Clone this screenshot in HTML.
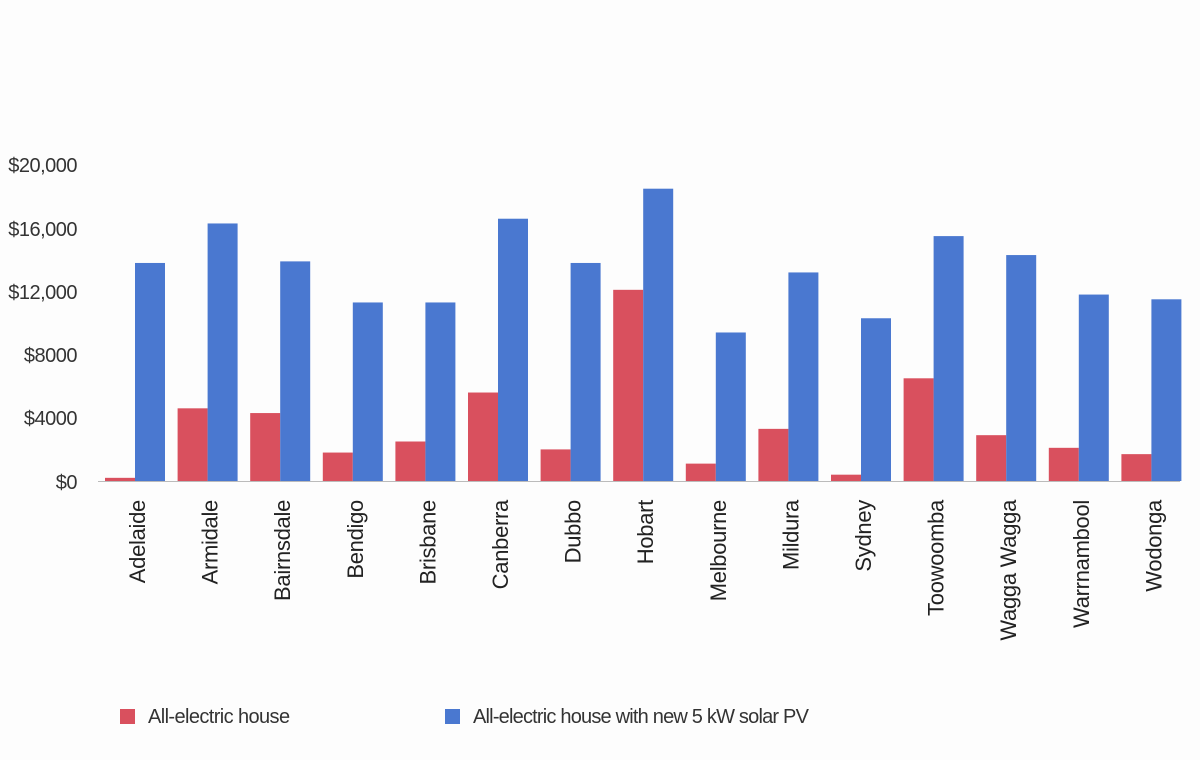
<!DOCTYPE html>
<html><head><meta charset="utf-8"><style>
html,body{margin:0;padding:0;background:#fdfdfd;}
svg{display:block;font-family:"Liberation Sans",sans-serif;}
</style></head><body>
<svg width="1200" height="760" viewBox="0 0 1200 760" xmlns="http://www.w3.org/2000/svg">
<rect width="1200" height="760" fill="#fdfdfd"/>
<g font-size="20" fill="#333" text-anchor="end" letter-spacing="-0.5">
<text x="77" y="172">$20,000</text>
<text x="77" y="236">$16,000</text>
<text x="77" y="299">$12,000</text>
<text x="77" y="362">$8000</text>
<text x="77" y="425">$4000</text>
<text x="77" y="489">$0</text>
</g>
<line x1="98" y1="481.5" x2="1180" y2="481.5" stroke="#bbb" stroke-width="1"/>
<g id="bars"></g>
<g id="labels" font-size="22" fill="#222" letter-spacing="-0.3"></g>
<rect x="120" y="709" width="15" height="15" fill="#d9505e"/>
<text x="148" y="723" font-size="20" fill="#333" letter-spacing="-0.6">All-electric house</text>
<rect x="445" y="709" width="15" height="15" fill="#4a78d0"/>
<text x="473" y="723" font-size="20" fill="#333" letter-spacing="-0.8">All-electric house with new 5 kW solar PV</text>
<script>
var names=["Adelaide","Armidale","Bairnsdale","Bendigo","Brisbane","Canberra","Dubbo","Hobart","Melbourne","Mildura","Sydney","Toowoomba","Wagga Wagga","Warrnambool","Wodonga"];
var red=[0.2,4.6,4.3,1.8,2.5,5.6,2.0,12.1,1.1,3.3,0.4,6.5,2.9,2.1,1.7];
var blue=[13.8,16.3,13.9,11.3,11.3,16.6,13.8,18.5,9.4,13.2,10.3,15.5,14.3,11.8,11.5];
var ns="http://www.w3.org/2000/svg",b=document.getElementById("bars"),l=document.getElementById("labels");
function r(x,h,c){var e=document.createElementNS(ns,"rect");e.setAttribute("x",x);e.setAttribute("y",481-h);e.setAttribute("width",30);e.setAttribute("height",h);e.setAttribute("fill",c);b.appendChild(e);}
for(var i=0;i<15;i++){var x=105+72.6*i;r(x,red[i]*15.8,"#d9505e");r(x+30,blue[i]*15.8,"#4a78d0");
var t=document.createElementNS(ns,"text");var cx=x+40;t.setAttribute("transform","translate("+cx+",500) rotate(-90)");t.setAttribute("text-anchor","end");t.textContent=names[i];l.appendChild(t);}
</script>
</svg>
</body></html>
